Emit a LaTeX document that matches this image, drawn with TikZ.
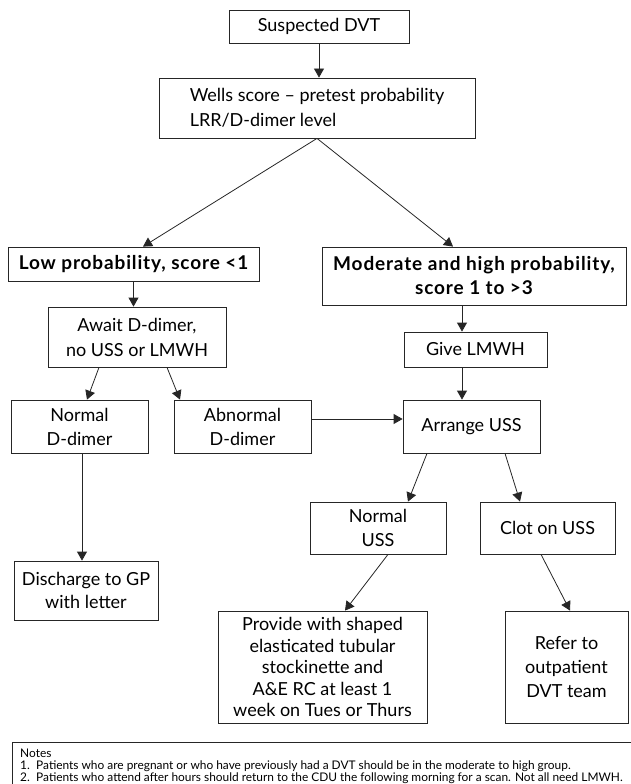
\documentclass[tikz,border=0pt]{standalone}
\usepackage{fontspec}
\setmainfont{Lato}
\usetikzlibrary{arrows.meta,calc}
\begin{document}
\begin{tikzpicture}[x=1pt,y=-1pt,
  box/.style={draw=black!85, line width=0.8pt, inner sep=1pt, align=center,
    font=\fontsize{18}{22}\selectfont},
  bbox/.style={box, font=\fontsize{19}{24}\selectfont\bfseries\addfontfeature{LetterSpace=4.5}},
  arr/.style={-{Triangle[length=9pt,width=10pt]}, line width=0.8pt, draw=black!85}]
\useasboundingbox (0,0) rectangle (630,784);

\node[box, minimum width=180pt, minimum height=33pt] (sus) at (319,26.5) {Suspected DVT};
\node[box, align=left, minimum width=316pt, minimum height=60pt,
  font=\fontsize{18}{25}\selectfont] (wells) at (317,108)
  {Wells score – pretest probability\\LRR/D-dimer level};
\node[bbox, minimum width=251pt, minimum height=34pt] (low) at (133.5,264) {Low probability, score <1};
\node[bbox, minimum width=304pt, minimum height=58pt] (mod) at (474,276)
  {Moderate and high probability,\\score 1 to >3};
\node[box, minimum width=178pt, minimum height=60pt, font=\fontsize{18}{25}\selectfont] (await) at (137,337)
  {Await D-dimer,\\no USS or LMWH};
\node[box, minimum width=143pt, minimum height=35pt] (give) at (475.5,349.5) {Give LMWH};
\node[box, minimum width=137pt, minimum height=53pt, font=\fontsize{18}{24}\selectfont] (normd) at (79.5,426.5) {Normal\\D-dimer};
\node[box, minimum width=137pt, minimum height=53pt, font=\fontsize{18}{24}\selectfont] (abnd) at (242.5,426.5) {Abnormal\\D-dimer};
\node[box, minimum width=137pt, minimum height=53pt] (arrange) at (471.5,426.5) {Arrange USS};
\node[box, minimum width=136pt, minimum height=52pt, font=\fontsize{18}{24}\selectfont] (nuss) at (378,528) {Normal\\USS};
\node[box, minimum width=135pt, minimum height=52pt] (clot) at (547.5,528) {Clot on USS};
\node[box, minimum width=144pt, minimum height=59pt, font=\fontsize{18}{23}\selectfont] (disch) at (86,590.5) {Discharge to GP\\with letter};
\node[box, minimum width=209pt, minimum height=112pt, font=\fontsize{18}{21.5}\selectfont] (provide) at (322.5,667)
  {Provide with shaped\\elasticated tubular\\stockinette and\\A\&E RC at least 1\\week on Tues or Thurs};
\node[box, minimum width=123pt, minimum height=112pt, font=\fontsize{18}{24}\selectfont] (refer) at (566.5,667)
  {Refer to\\outpatient\\DVT team};

\draw[draw=black!85, line width=0.8pt] (12,742) rectangle (660,810);
\node[anchor=north west, align=left, inner sep=0pt, font=\fontsize{11.9}{12.3}\selectfont] (notes) at (20,748.5)
  {Notes\\
   \makebox[16pt][l]{1.}Patients who are pregnant or who have previously had a DVT should be in the moderate to high group.\\
   \makebox[16pt][l]{2.}Patients who attend after hours should return to the CDU the following morning for a scan. Not all need LMWH.};

\draw[arr] (sus.south) -- (sus.south |- wells.north);
\draw[arr] (wells.south) -- ($(low.north)+(9.5,0)$);
\draw[arr] (wells.south) -- ($(mod.north)+(-21,0)$);
\draw[arr] (low.south) -- (low.south |- await.north);
\draw[arr] ($(mod.south)+(-12,0)$) coordinate (m1) -- (m1 |- give.north);
\draw[arr] (m1 |- give.south) -- (m1 |- arrange.north);
\draw[arr] ($(await.south)+(-38,0)$) -- ($(normd.north)+(7.5,0)$);
\draw[arr] ($(await.south)+(30,0)$) -- ($(abnd.north)+(-62.5,0)$);
\draw[arr] ($(abnd.east)+(0,-7.5)$) coordinate (a1) -- (a1 -| arrange.west);
\draw[arr] ($(normd.south)+(2.5,0)$) coordinate (n1) -- (n1 |- disch.north);
\draw[arr] ($(arrange.south)+(-44.5,0)$) -- ($(nuss.north)+(30,0)$);
\draw[arr] ($(arrange.south)+(33.5,0)$) -- ($(clot.north)+(-27.5,0)$);
\draw[arr] ($(nuss.south)+(10,0)$) -- ($(provide.north)+(22.5,0)$);
\draw[arr] ($(clot.south)+(-6.5,0)$) -- ($(refer.north)+(3.5,0)$);
\end{tikzpicture}
\end{document}
